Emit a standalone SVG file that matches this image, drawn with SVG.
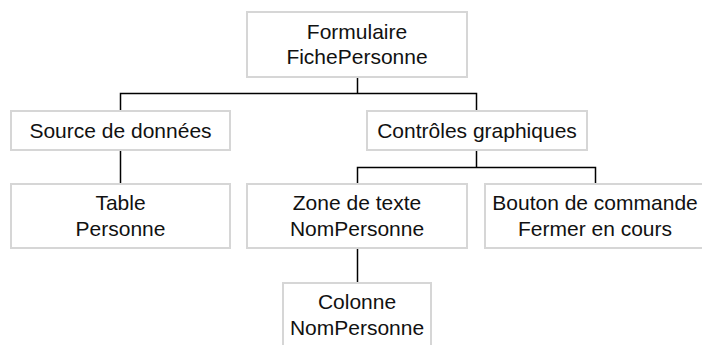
<svg xmlns="http://www.w3.org/2000/svg" width="702" height="345" viewBox="0 0 702 345">
<style>
.box{fill:#fff;stroke:#d6d6d6;stroke-width:2}
.lbl{font-family:"Liberation Sans",Arial,sans-serif;font-size:21px;fill:#111;text-anchor:middle}
.conn{stroke:#000;stroke-width:1.5;fill:none}
</style>
<rect width="702" height="345" fill="#fff"/>
<g id="connectors">
<path class="conn" d="M357.5,77V93.5M120.5,111V93.5H476.5V111"/>
<path class="conn" d="M120.5,150V184"/>
<path class="conn" d="M476.5,150V167.5M357.5,184V167.5H595.5V184"/>
<path class="conn" d="M357.5,248V283"/>
</g>
<g id="formulaire">
<rect class="box" x="247" y="12" width="220" height="65"/>
<text class="lbl" x="357" y="38.5">Formulaire</text>
<text class="lbl" x="357" y="64">FichePersonne</text>
</g>
<g id="source">
<rect class="box" x="11" y="111" width="219" height="39"/>
<text class="lbl" x="120.5" y="138">Source de données</text>
</g>
<g id="controles">
<rect class="box" x="367" y="111" width="220" height="39"/>
<text class="lbl" x="477" y="138">Contrôles graphiques</text>
</g>
<g id="table">
<rect class="box" x="11" y="184" width="219" height="64"/>
<text class="lbl" x="120.5" y="210">Table</text>
<text class="lbl" x="120.5" y="236">Personne</text>
</g>
<g id="zone">
<rect class="box" x="247" y="184" width="220" height="64"/>
<text class="lbl" x="357" y="210">Zone de texte</text>
<text class="lbl" x="357" y="236">NomPersonne</text>
</g>
<g id="bouton">
<rect class="box" x="485" y="184" width="222" height="64"/>
<text class="lbl" x="595" y="210">Bouton de commande</text>
<text class="lbl" x="595" y="236">Fermer en cours</text>
</g>
<g id="colonne">
<rect class="box" x="283" y="283" width="148" height="66"/>
<text class="lbl" x="357" y="309">Colonne</text>
<text class="lbl" x="357" y="335">NomPersonne</text>
</g>
</svg>
